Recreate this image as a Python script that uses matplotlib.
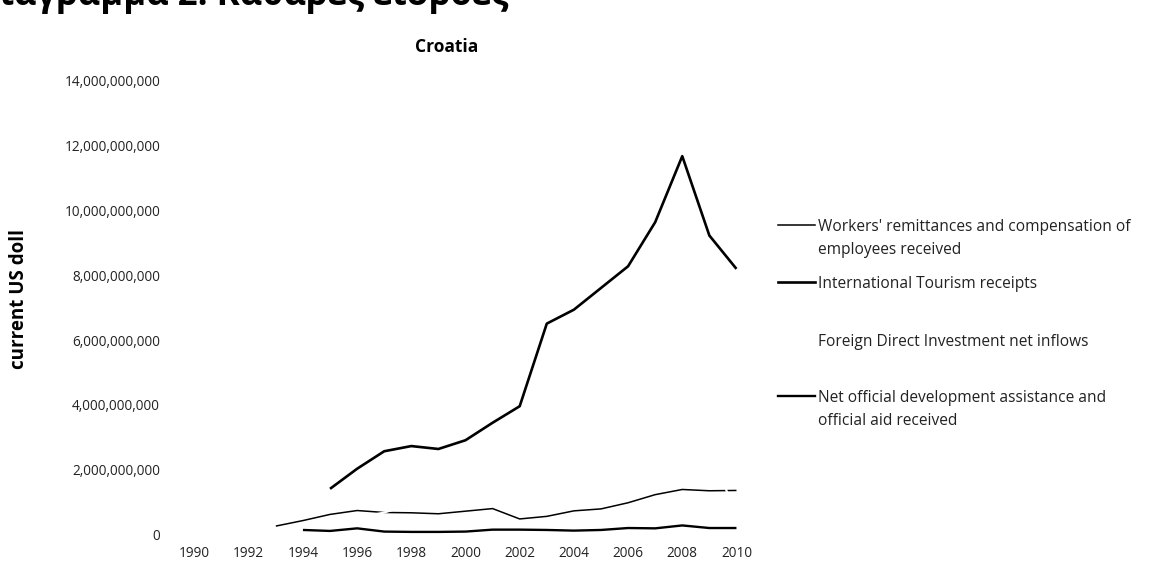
import numpy as np
import matplotlib
matplotlib.use('Agg')
import matplotlib.pyplot as plt
from matplotlib.lines import Line2D
from matplotlib.ticker import FuncFormatter

plt.rcParams['font.family'] = ['Open Sans', 'DejaVu Sans']

# === DATA (billions of current US$) ===
years = np.arange(1990, 2011)
nan = np.nan
remittances = [nan, nan, nan, 0.26, 0.43, 0.62, 0.74, 0.68, 0.67, 0.64, 0.72,
               0.80, 0.48, 0.56, 0.73, 0.79, 0.98, 1.23, 1.39, 1.35, 1.36]
tourism = [nan, nan, nan, nan, nan, 1.41, 2.03, 2.57, 2.73, 2.64, 2.91,
           3.45, 3.96, 6.51, 6.94, 7.61, 8.28, 9.64, 11.68, 9.23, 8.20]
fdi = [nan, nan, nan, 0.12, 0.12, 0.11, 0.50, 0.68, 0.93, 1.47, 1.10,
       1.40, 1.10, 2.10, 1.20, 1.80, 3.50, 5.00, 6.20, 3.00, 0.40]
oda = [nan, nan, nan, nan, 0.14, 0.11, 0.19, 0.09, 0.08, 0.08, 0.09,
       0.15, 0.15, 0.14, 0.12, 0.14, 0.20, 0.19, 0.28, 0.20, 0.20]

labels = ["Workers' remittances and compensation of\nemployees received",
          "International Tourism receipts",
          "Foreign Direct Investment net inflows",
          "Net official development assistance and\nofficial aid received"]
colors = ['black', 'black', 'white', 'black']
widths = [1.1, 1.9, 1.6, 1.7]
series = [remittances, tourism, fdi, oda]

W, H = 1156, 573
fig = plt.figure(figsize=(W / 100, H / 100), dpi=100)
ax = fig.add_axes([181 / W, 1 - 534.5 / H, 569 / W, 453.5 / H])

# FDI is drawn in white (as in the source), so it only shows where it cuts other lines
for vals, c, lw in zip(series, colors, widths):
    ax.plot(years, np.array(vals) * 1e9, color=c, lw=lw, solid_capstyle='butt',
            solid_joinstyle='round')

ax.set_xlim(1989.5, 2010.5)
ax.set_ylim(0, 14e9)
ax.set_yticks(np.arange(0, 14.1e9, 2e9))
ax.set_xticks(np.arange(1990, 2011, 2))
ax.yaxis.set_major_formatter(FuncFormatter(lambda v, _: f'{v:,.0f}'))
ax.tick_params(length=0, labelsize=9.8, colors='#222222')
ax.tick_params(axis='y', pad=15)
ax.tick_params(axis='x', pad=8)
for s in ax.spines.values():
    s.set_visible(False)

ax.set_ylabel('current US doll', fontsize=13.5, fontweight='bold')
ax.yaxis.set_label_coords(-152 / 569, 0.52)
fig.text(447 / W, 1 - 47 / H, 'Croatia', fontsize=12.5, fontweight='bold',
         ha='center', va='center')

# page heading above the chart, clipped by the top edge as in the source
fig.text(508 / W, 1 - 5 / H, 'Διάγραμμα 2: Καθαρές εισροές', fontsize=25,
         fontweight='bold', ha='right', va='baseline')

# === LEGEND (manual) ===
leg_y = [225, 282, 340, 396]
for lab, c, lw, y in zip(labels, colors, widths, leg_y):
    yf = 1 - y / H
    fig.add_artist(Line2D([778 / W, 815 / W], [yf, yf], color=c, lw=lw,
                          transform=fig.transFigure))
    fig.text(818 / W, yf + 6 / H, lab, fontsize=11.2, ha='left', va='top',
             color='#222222', linespacing=1.55)

plt.savefig('out.png', dpi=100)
